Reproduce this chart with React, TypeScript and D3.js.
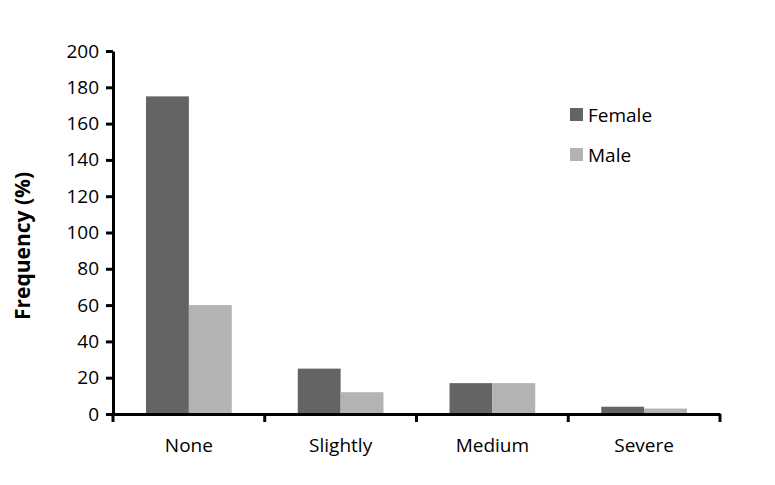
import React, { useEffect, useRef } from 'react';
import * as d3 from 'd3';

const categories = ['None', 'Slightly', 'Medium', 'Severe'];
const seriesNames = ['Female', 'Male'];
const femaleValues = [175, 25, 17, 4];
const maleValues = [60, 12, 17, 3];
const yTicks = [0, 20, 40, 60, 80, 100, 120, 140, 160, 180, 200];
const colors = ['#646464', '#b3b3b3'];

const App = () => {
  const svgRef = useRef<SVGSVGElement>(null);

  useEffect(() => {
    const svg = d3.select(svgRef.current);
    svg.selectAll('*').remove();

    const margin = { top: 51, right: 55, bottom: 71, left: 113 };
    const width = 775 - margin.left - margin.right;
    const height = 485 - margin.top - margin.bottom;
    const font = '"Open Sans", sans-serif';

    const g = svg.append('g')
      .attr('transform', `translate(${margin.left},${margin.top})`);

    const x = d3.scaleBand().domain(categories).range([0, width]).paddingInner(0).paddingOuter(0);
    const inner = d3.scaleBand().domain(seriesNames).range([0, x.bandwidth()]).paddingOuter(0.77).paddingInner(0);
    const y = d3.scaleLinear().domain([0, 200]).range([height, 0]);

    const rows = categories.map((c, i) => ({ cat: c, values: [femaleValues[i], maleValues[i]] }));

    const groups = g.selectAll('.grp')
      .data(rows)
      .enter().append('g')
      .attr('transform', d => `translate(${x(d.cat)},0)`);

    groups.selectAll('rect')
      .data(d => d.values.map((v, k) => ({ name: seriesNames[k], v, k })))
      .enter().append('rect')
      .attr('x', d => inner(d.name)!)
      .attr('y', d => y(d.v))
      .attr('width', inner.bandwidth())
      .attr('height', d => height - y(d.v))
      .attr('fill', d => colors[d.k]);

    // y axis
    const yAxis = g.append('g')
      .call(d3.axisLeft(y).tickValues(yTicks).tickSize(7).tickSizeOuter(0));
    yAxis.select('.domain').attr('stroke', '#000').attr('stroke-width', 3);
    yAxis.selectAll('.tick line').attr('stroke', '#000').attr('stroke-width', 3);
    yAxis.selectAll('text')
      .attr('x', -14)
      .style('font-family', font)
      .style('font-size', '19px')
      .attr('fill', '#000');

    // x axis
    const xAxis = g.append('g')
      .attr('transform', `translate(0,${height})`)
      .call(d3.axisBottom(x).tickSize(0).tickSizeOuter(0));
    xAxis.select('.domain').attr('stroke', '#000').attr('stroke-width', 3);
    xAxis.selectAll('text')
      .attr('y', 25)
      .style('font-family', font)
      .style('font-size', '19px')
      .attr('fill', '#000');

    // boundary ticks between categories
    const bounds = [0, ...categories.map(c => x(c)! + x.bandwidth())];
    g.selectAll('.btick')
      .data(bounds)
      .enter().append('line')
      .attr('x1', d => d)
      .attr('x2', d => d)
      .attr('y1', height)
      .attr('y2', height + 8)
      .attr('stroke', '#000')
      .attr('stroke-width', 3);

    // axis title
    svg.append('text')
      .attr('transform', `translate(30,246) rotate(-90)`)
      .attr('text-anchor', 'middle')
      .style('font-family', font)
      .style('font-size', '21px')
      .style('font-weight', 'bold')
      .text('Frequency (%)');

    // legend
    const legend = svg.selectAll('.legend')
      .data(seriesNames)
      .enter().append('g')
      .attr('transform', (d, i) => `translate(570,${108 + i * 40})`);

    legend.append('rect')
      .attr('width', 13)
      .attr('height', 13)
      .attr('fill', (d, i) => colors[i]);

    legend.append('text')
      .attr('x', 18)
      .attr('y', 7)
      .attr('dy', '.35em')
      .style('font-family', font)
      .style('font-size', '19px')
      .text(d => d);
  }, []);

  return <svg ref={svgRef} width={775} height={485} style={{ position: 'absolute', left: 0, top: 0 }}></svg>;
};

export default App;
